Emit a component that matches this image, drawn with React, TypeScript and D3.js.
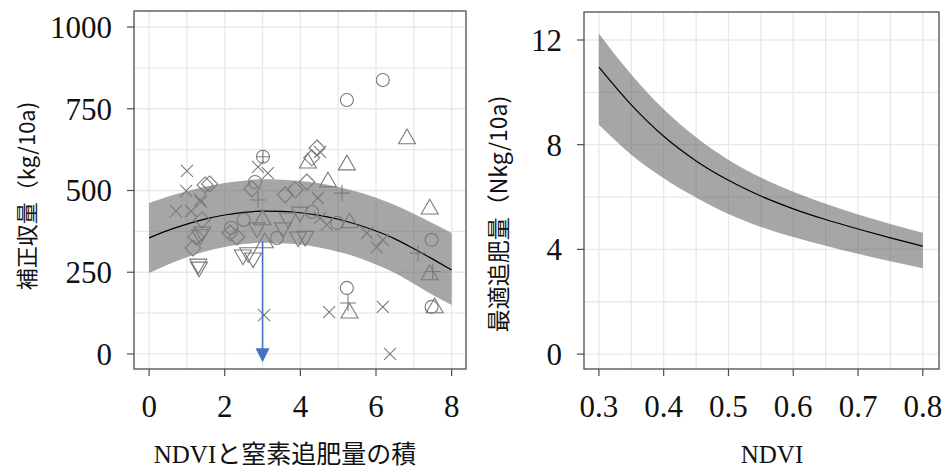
import React from 'react';
import * as d3 from 'd3';

// left panel: fitted yield vs NDVI x N-topdressing product
const fitX = [0, 0.5, 1, 1.5, 2, 2.5, 3, 3.5, 4, 4.5, 5, 5.5, 6, 6.5, 7, 7.5, 8];
const fitY = [355, 378, 397, 413, 425, 433, 437, 436, 432, 424, 412, 396, 376, 352, 322, 290, 257];
const fitUpper = [462, 482, 498, 512, 523, 530, 534, 533, 529, 522, 511, 496, 478, 456, 429, 400, 370];
const fitLower = [248, 274, 296, 314, 327, 336, 340, 339, 335, 326, 313, 296, 274, 248, 215, 180, 150];

// observed points (x, corrected yield, marker shape)
const ptX = [
  1.0, 0.98, 1.37, 0.71, 1.11, 1.35, 2.88, 3.14, 4.46, 4.52, 4.52, 3.04, 4.76, 6.18, 6.37, 6.02, 6.18, 5.76, 4.7,
  6.18, 5.23, 5.23, 7.47, 7.47, 2.17, 2.5, 3.38, 2.8, 4.31, 4.97,
  3.01,
  6.82, 5.23, 4.73, 7.42, 5.3, 7.42, 7.55, 5.3, 3.0, 3.06, 4.2,
  2.88, 5.1, 5.26, 7.11, 7.5,
  4.44, 4.3, 1.48, 1.6, 1.4, 1.16, 2.14, 2.32, 3.6, 3.86, 4.17, 2.72, 1.24,
  1.32, 1.3, 1.4, 1.35, 2.48, 2.75, 2.62, 3.54, 3.94, 4.13, 3.99, 3.67, 2.85,
];
const ptY = [
  560, 499, 465, 437, 437, 471, 572, 553, 477, 618, 416, 119, 128, 144, 0, 327, 349, 370, 395,
  838, 777, 202, 144, 349, 386, 410, 355, 526, 434, 401,
  603,
  658, 578, 526, 443, 401, 242, 141, 125, 410, 340, 584,
  471, 492, 156, 309, 252,
  630, 600, 517, 520, 410, 324, 370, 358, 487, 502, 526, 505, 358,
  266, 275, 373, 365, 303, 294, 310, 386, 358, 360, 434, 416, 386,
];
const ptShape = [
  'x', 'x', 'x', 'x', 'x', 'x', 'x', 'x', 'x', 'x', 'x', 'x', 'x', 'x', 'x', 'x', 'x', 'x', 'x',
  'o', 'o', 'o', 'o', 'o', 'o', 'o', 'o', 'o', 'o', 'o',
  'oplus',
  'tri', 'tri', 'tri', 'tri', 'tri', 'tri', 'tri', 'tri', 'tri', 'tri', 'tri',
  'plus', 'plus', 'plus', 'plus', 'plus',
  'dia', 'dia', 'dia', 'dia', 'dia', 'dia', 'dia', 'dia', 'dia', 'dia', 'dia', 'dia', 'dia',
  'tdown', 'tdown', 'tdown', 'tdown', 'tdown', 'tdown', 'tdown', 'tdown', 'tdown', 'tdown', 'tdown', 'tdown', 'tdown',
];

// blue arrow annotation (x, from y, to y)
const arrowX = 3.0;
const arrowFrom = 343;
const arrowTo = -25;

const leftXTicks = [0, 2, 4, 6, 8];
const leftXMinor = [1, 3, 5, 7];
const leftYTicks = [0, 250, 500, 750, 1000];
const leftYMinor = [125, 375, 625, 875];

// right panel: optimal topdressing vs NDVI
const ndvi = [0.3, 0.35, 0.4, 0.45, 0.5, 0.55, 0.6, 0.65, 0.7, 0.75, 0.8];
const optN = [10.96, 9.52, 8.32, 7.38, 6.64, 6.04, 5.55, 5.14, 4.78, 4.44, 4.12];
const optUpper = [12.25, 10.68, 9.35, 8.28, 7.42, 6.75, 6.2, 5.74, 5.33, 4.97, 4.64];
const optLower = [8.76, 7.62, 6.72, 5.98, 5.35, 4.86, 4.47, 4.14, 3.83, 3.55, 3.28];

const rightXTicks = [0.3, 0.4, 0.5, 0.6, 0.7, 0.8];
const rightXMinor = [0.35, 0.45, 0.55, 0.65, 0.75];
const rightYTicks = [0, 4, 8, 12];
const rightYMinor = [2, 6, 10];

const serif = '"Liberation Serif", "Times New Roman", serif';
const jpSans = '"Noto Sans CJK JP", "Noto Sans", sans-serif';
const gridColor = '#e8e8e8';
const axisColor = '#4d4d4d';
const pointColor = '#7a7a7a';

function markerPath(shape) {
  const p = d3.path();
  if (shape === 'o' || shape === 'oplus') {
    p.moveTo(6.5, 0);
    p.arc(0, 0, 6.5, 0, Math.PI * 2);
    if (shape === 'oplus') {
      p.moveTo(-6.5, 0); p.lineTo(6.5, 0);
      p.moveTo(0, -6.5); p.lineTo(0, 6.5);
    }
  } else if (shape === 'tri') {
    p.moveTo(0, -9.8); p.lineTo(8.5, 4.9); p.lineTo(-8.5, 4.9); p.closePath();
  } else if (shape === 'tdown') {
    p.moveTo(0, 9.8); p.lineTo(8.5, -4.9); p.lineTo(-8.5, -4.9); p.closePath();
  } else if (shape === 'dia') {
    p.moveTo(0, -8); p.lineTo(8, 0); p.lineTo(0, 8); p.lineTo(-8, 0); p.closePath();
  } else if (shape === 'x') {
    p.moveTo(-6, -6); p.lineTo(6, 6);
    p.moveTo(-6, 6); p.lineTo(6, -6);
  } else if (shape === 'plus') {
    p.moveTo(-8, 0); p.lineTo(8, 0);
    p.moveTo(0, -8); p.lineTo(0, 8);
  }
  return p.toString();
}

function Frame({ x, y, xTicks, xMinor, yTicks, yMinor, fmt }) {
  const [l, r] = x.range();
  const [b, t] = y.range();
  return (
    <g>
      {[...xMinor, ...xTicks].map((v) => (
        <line key={'gx' + v} x1={x(v)} x2={x(v)} y1={t} y2={b} stroke={gridColor} strokeWidth={1.3} />
      ))}
      {[...yMinor, ...yTicks].map((v) => (
        <line key={'gy' + v} x1={l} x2={r} y1={y(v)} y2={y(v)} stroke={gridColor} strokeWidth={1.3} />
      ))}
      {xTicks.map((v) => (
        <g key={'tx' + v}>
          <line x1={x(v)} x2={x(v)} y1={b} y2={b + 7} stroke={axisColor} strokeWidth={1.2} />
          <text x={x(v)} y={417} textAnchor="middle" fontFamily={serif} fontSize={31} fill="#111">
            {fmt(v)}
          </text>
        </g>
      ))}
      {yTicks.map((v) => (
        <g key={'ty' + v}>
          <line x1={l - 7} x2={l} y1={y(v)} y2={y(v)} stroke={axisColor} strokeWidth={1.2} />
          <text x={l - 22} y={y(v)} dy="0.35em" textAnchor="end" fontFamily={serif} fontSize={31} fill="#111">
            {v}
          </text>
        </g>
      ))}
    </g>
  );
}

export default function App() {
  // left
  const xL = d3.scaleLinear().domain([-0.4, 8.38]).range([134, 466]);
  const yL = d3.scaleLinear().domain([-46, 1049]).range([369, 11]);
  const bandL = d3.area()
    .x((d, i) => xL(fitX[i]))
    .y0((d, i) => yL(fitLower[i]))
    .y1((d, i) => yL(fitUpper[i]))
    .curve(d3.curveMonotoneX)(fitX);
  const lineL = d3.line()
    .x((d, i) => xL(fitX[i]))
    .y((d, i) => yL(fitY[i]))
    .curve(d3.curveMonotoneX)(fitX);

  // right
  const xR = d3.scaleLinear().domain([0.277, 0.825]).range([584, 939]);
  const yR = d3.scaleLinear().domain([-0.57, 13.07]).range([369, 12]);
  const bandR = d3.area()
    .x((d, i) => xR(ndvi[i]))
    .y0((d, i) => yR(optLower[i]))
    .y1((d, i) => yR(optUpper[i]))
    .curve(d3.curveMonotoneX)(ndvi);
  const lineR = d3.line()
    .x((d, i) => xR(ndvi[i]))
    .y((d, i) => yR(optN[i]))
    .curve(d3.curveMonotoneX)(ndvi);

  const ax = xL(arrowX);
  const tipY = yL(arrowTo);

  return (
    <svg width={948} height={475} style={{ position: 'absolute', left: 0, top: 0, background: '#fff' }}>
      <rect width={948} height={475} fill="#fff" />

      {/* left panel */}
      <Frame x={xL} y={yL} xTicks={leftXTicks} xMinor={leftXMinor} yTicks={leftYTicks} yMinor={leftYMinor} fmt={(v) => String(v)} />
      <path d={bandL} fill="#4d4d4d" fillOpacity={0.5} />
      <path d={lineL} fill="none" stroke="#000" strokeWidth={1.2} />
      {ptX.map((v, i) => (
        <path
          key={'p' + i}
          d={markerPath(ptShape[i])}
          transform={`translate(${xL(v)},${yL(ptY[i])})`}
          fill="none"
          stroke={pointColor}
          strokeWidth={1.1}
        />
      ))}
      <line x1={ax} x2={ax} y1={yL(arrowFrom)} y2={tipY - 12} stroke="#4472c4" strokeWidth={1.6} />
      <path d={`M${ax - 7},${tipY - 14}L${ax + 7},${tipY - 14}L${ax},${tipY}Z`} fill="#4472c4" />
      <rect x={134} y={11} width={332} height={358} fill="none" stroke={axisColor} strokeWidth={1.3} />
      <text x={285} y={463} textAnchor="middle" fontFamily={`${serif}, ${jpSans}`} fontSize={25} fill="#111">
        NDVIと窒素追肥量の積
      </text>
      <text
        transform="translate(25,196) rotate(-90)"
        textAnchor="middle"
        dominantBaseline="central"
        fontFamily={jpSans}
        fontSize={22}
        fill="#111"
      >
        補正収量（kg/10a)
      </text>

      {/* right panel */}
      <Frame x={xR} y={yR} xTicks={rightXTicks} xMinor={rightXMinor} yTicks={rightYTicks} yMinor={rightYMinor} fmt={(v) => d3.format('.1f')(v)} />
      <path d={bandR} fill="#4d4d4d" fillOpacity={0.5} />
      <path d={lineR} fill="none" stroke="#000" strokeWidth={1.2} />
      <rect x={584} y={12} width={355} height={357} fill="none" stroke={axisColor} strokeWidth={1.3} />
      <text x={772} y={463} textAnchor="middle" fontFamily={serif} fontSize={25} fill="#111">
        NDVI
      </text>
      <text
        transform="translate(497,214) rotate(-90)"
        textAnchor="middle"
        dominantBaseline="central"
        fontFamily={jpSans}
        fontSize={23}
        fill="#111"
      >
        最適追肥量（Nkg/10a)
      </text>
    </svg>
  );
}
